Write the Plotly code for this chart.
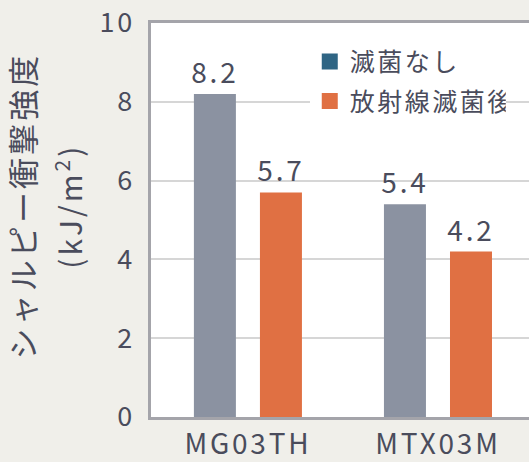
import plotly.graph_objects as go

categories = ["MG03TH", "MTX03M"]
series_names = ["滅菌なし", "放射線滅菌後"]
values_untreated = [8.2, 5.4]
values_irradiated = [5.7, 4.2]
bar_colors = ["#8b92a1", "#e07043"]
legend_colors = ["#2f6584", "#e07043"]
y_ticks = [0, 2, 4, 6, 8, 10]

FONT = "Noto Sans CJK JP"
TXT = "#4a4c5c"

fig = go.Figure()
for name, vals, col in zip(series_names, [values_untreated, values_irradiated], bar_colors):
    fig.add_trace(go.Bar(
        x=categories, y=vals, name=name, marker_color=col, marker_line_width=0,
        text=[f"{v:.1f}" for v in vals], textposition="outside",
        textfont=dict(family=FONT, size=28, color=TXT), cliponaxis=False,
        showlegend=False, hoverinfo="skip",
    ))
for name, col in zip(series_names, legend_colors):
    fig.add_trace(go.Scatter(
        x=[None], y=[None], mode="markers", name=name, legendgroup=name,
        marker=dict(symbol="square", size=16, color=col),
    ))

fig.update_layout(
    width=529, height=462,
    paper_bgcolor="#f0efea", plot_bgcolor="#ffffff",
    margin=dict(l=151, r=0, t=23, b=45),
    barmode="group", bargap=0.305, bargroupgap=0.364,
    font=dict(family=FONT, color=TXT),
    legend=dict(
        x=0.42, y=0.96, xanchor="left", yanchor="top",
        bgcolor="#ffffff", font=dict(family=FONT, size=25, color=TXT),
        itemwidth=30, tracegroupgap=4,
    ),
    xaxis=dict(
        range=[-0.51, 1.479], showline=True, linecolor="#a4a4aa", linewidth=2.5,
        mirror=True, ticks="", ticklabelstandoff=1, automargin=False,
        tickfont=dict(family=FONT, size=28, color=TXT),
    ),
    yaxis=dict(
        range=[0, 10], tickvals=y_ticks, showline=True, linecolor="#a4a4aa",
        linewidth=2.5, gridcolor="#d6d6d6", gridwidth=2, zeroline=False,
        automargin=False,
        ticks="", ticklabelstandoff=8, tickfont=dict(family=FONT, size=27, color=TXT),
    ),
)
fig.add_annotation(text="シャルピー衝撃強度", xref="paper", yref="paper",
                   x=-0.343, y=0.535, xanchor="center", yanchor="middle",
                   textangle=-90, showarrow=False,
                   font=dict(family=FONT, size=31, color=TXT))
fig.add_annotation(text="(kJ/m<sup>2</sup>)", xref="paper", yref="paper",
                   x=-0.217, y=0.535, xanchor="center", yanchor="middle",
                   textangle=-90, showarrow=False,
                   font=dict(family=FONT, size=30, color=TXT))

post = """
document.body.style.margin = '0';
var gd = document.getElementById('{plot_id}');
function spaceText() {
  gd.querySelectorAll('text').forEach(function (t) { t.style.letterSpacing = '0.1em'; });
}
spaceText();
if (gd.on) { gd.on('plotly_afterplot', spaceText); }
setTimeout(spaceText, 50);
"""

fig.write_html("out.html", post_script=post, config={"displayModeBar": False})
